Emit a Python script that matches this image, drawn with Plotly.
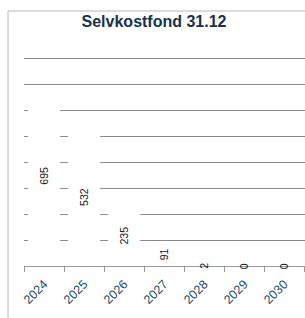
import plotly.graph_objects as go

years = ["2024", "2025", "2026", "2027", "2028", "2029", "2030", "2031"]
values = [695, 532, 235, 91, 2, 0, 0, 0]
title_text = "Selvkostfond 31.12"

fig = go.Figure()
fig.add_trace(go.Bar(
    x=years, y=values,
    marker=dict(color="white", line=dict(width=0)),
    width=0.8,
    hoverinfo="skip",
))

for i, v in enumerate(values):
    fig.add_annotation(
        x=i, y=v / 2, text=str(v), textangle=-90, showarrow=False,
        font=dict(family="Liberation Sans", size=10.5, color="#161616"),
        xref="x", yref="y",
    )

plot_h = 318 - 52 - 54
fig.add_shape(type="rect", xref="paper", yref="paper",
              x0=-16 / 281, x1=1.2, y0=-0.5, y1=(266 - 11) / plot_h,
              line=dict(color="#b8b8b8", width=1), fillcolor="rgba(0,0,0,0)",
              layer="below")

fig.update_layout(
    width=305, height=318,
    margin=dict(l=24, r=0, t=54, b=52),
    paper_bgcolor="white", plot_bgcolor="white",
    showlegend=False,
    title=dict(text="<b>" + title_text + "</b>", x=0.505, xanchor="center",
               y=1 - 21 / 318, yanchor="middle",
               font=dict(family="Liberation Sans", size=16, color="#17324a")),
    xaxis=dict(
        type="category", range=[-0.5, 6.52],
        showline=True, linecolor="#9a9a9a", linewidth=1,
        ticks="outside", tickson="boundaries", ticklen=5, tickcolor="#9a9a9a",
        tickangle=-45, showgrid=False, ticklabelstandoff=5,
        tickfont=dict(family="Liberation Sans", size=12.5, color="#274a60"),
    ),
    yaxis=dict(
        range=[0, plot_h / 0.26], dtick=100, showgrid=True, gridcolor="#8c8c8c",
        gridwidth=1, zeroline=False, showticklabels=False, ticks="",
    ),
)

fig.write_html("out.html", post_script="document.body.style.margin='0';",
               config={"displayModeBar": False})
